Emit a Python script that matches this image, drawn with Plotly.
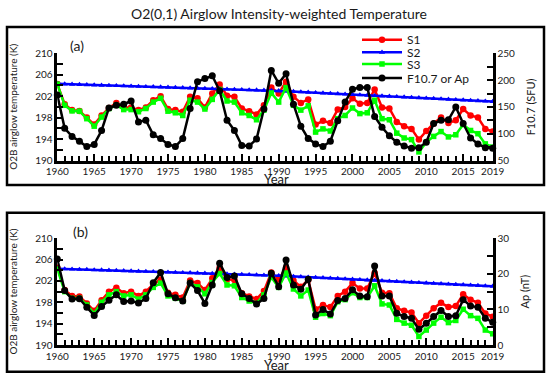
import plotly.graph_objects as go

years = list(range(1960, 2020))

# Panel (a): F10.7 proxy
a_s1 = [204.25, 200.5, 199.4, 199.25, 198.0, 196.7, 198.4, 199.8, 200.75, 199.9,
        199.9, 199.4, 199.9, 201.25, 202.0, 199.6, 199.4, 199.1, 201.9, 201.6,
        199.9, 202.5, 204.2, 202.1, 201.9, 199.7, 199.2, 198.6, 200.3, 203.6,
        202.5, 204.7, 201.9, 200.75, 201.4, 196.7, 197.4, 197.0, 199.5, 200.0,
        201.6, 200.6, 200.75, 203.25, 199.9, 199.7, 197.2, 196.4, 195.9, 193.9,
        195.5, 196.9, 198.0, 197.0, 197.5, 199.6, 198.4, 198.0, 195.9, 195.4]
a_s3 = [204.25, 200.3, 199.25, 199.2, 197.8, 196.4, 198.1, 199.7, 200.3, 199.5,
        199.5, 199.1, 199.7, 200.9, 201.6, 199.2, 198.9, 198.4, 201.25, 200.9,
        199.6, 201.4, 203.25, 201.1, 200.9, 198.9, 198.4, 197.6, 199.4, 202.6,
        200.9, 203.6, 200.3, 199.4, 200.2, 195.3, 195.9, 195.5, 197.8, 198.4,
        199.8, 198.75, 198.9, 201.25, 197.8, 197.6, 195.1, 194.2, 193.9, 191.6,
        193.4, 194.5, 195.4, 194.4, 194.8, 196.7, 195.6, 195.0, 193.1, 192.5]
a_f107 = [172, 110, 95, 86, 76, 80, 106, 148, 153, 155,
          161, 122, 125, 98, 91, 80, 76, 91, 147, 197,
          203, 208, 180, 125, 106, 78, 77, 90, 146, 218,
          194, 212, 155, 114, 91, 81, 76, 86, 124, 159,
          183, 186, 186, 132, 112, 96, 84, 77, 73, 74,
          84, 119, 125, 126, 150, 119, 92, 81, 74, 73]

# S2 trend (same in both panels)
s2 = [204.30, 204.26, 204.21, 204.17, 204.13, 204.08, 204.04, 204.00, 203.95, 203.91,
      203.87, 203.82, 203.78, 203.74, 203.69, 203.65, 203.61, 203.56, 203.52, 203.48,
      203.43, 203.39, 203.35, 203.30, 203.26, 203.22, 203.17, 203.13, 203.09, 203.04,
      203.00, 202.93, 202.86, 202.79, 202.72, 202.66, 202.59, 202.52, 202.45, 202.38,
      202.31, 202.24, 202.17, 202.10, 202.03, 201.97, 201.90, 201.83, 201.76, 201.69,
      201.62, 201.55, 201.48, 201.41, 201.34, 201.28, 201.21, 201.14, 201.07, 201.00]

# Panel (b): Ap proxy
b_s1 = [204.5, 200.3, 199.2, 199.1, 197.8, 196.4, 198.4, 200.0, 200.75, 199.7,
        200.0, 199.2, 200.0, 201.4, 202.3, 199.8, 199.4, 198.9, 202.1, 201.6,
        200.3, 202.5, 204.5, 202.3, 202.2, 199.7, 199.1, 198.6, 200.1, 203.6,
        202.3, 204.5, 202.1, 200.9, 202.2, 196.7, 197.5, 197.1, 199.2, 200.0,
        201.6, 200.6, 200.6, 203.5, 199.8, 199.7, 196.9, 196.4, 196.1, 194.1,
        195.5, 196.9, 197.9, 197.1, 197.3, 199.5, 198.5, 197.9, 195.9, 195.3]
b_s3 = [204.25, 200.0, 198.75, 198.75, 197.5, 195.9, 198.0, 199.4, 200.0, 199.2,
        199.4, 198.6, 199.4, 200.8, 201.6, 199.2, 198.75, 198.25, 201.6, 200.9,
        199.6, 201.7, 203.4, 201.25, 201.1, 198.9, 198.25, 197.8, 199.4, 202.7,
        200.8, 203.5, 200.5, 199.2, 200.3, 195.2, 195.9, 195.5, 198.1, 198.5,
        199.8, 198.9, 198.9, 201.1, 197.7, 197.5, 194.8, 194.1, 193.7, 191.6,
        192.8, 194.1, 195.2, 194.2, 194.6, 196.7, 195.5, 195.0, 192.8, 192.1]
b_ap = [24.2, 15.3, 12.9, 13.0, 10.6, 8.3, 10.8, 12.6, 14.1, 12.2,
        12.4, 11.8, 13.1, 17.5, 20.4, 14.4, 13.3, 12.4, 17.4, 15.3,
        11.7, 16.9, 23.0, 19.0, 19.4, 14.4, 13.1, 11.5, 13.1, 20.2,
        16.4, 23.9, 16.9, 15.7, 18.5, 8.4, 10.0, 8.7, 12.5, 13.1,
        15.5, 13.8, 13.6, 22.2, 13.8, 13.8, 8.9, 8.0, 7.5, 4.4,
        6.1, 8.0, 9.7, 8.0, 8.2, 12.7, 11.0, 10.6, 7.5, 6.4]

series_names = ["S1", "S2", "S3", "F10.7 or Ap"]
colors = ["#ff0000", "#0000ff", "#00ff00", "#000000"]
symbols = ["circle", "triangle-up", "square", "circle"]
msizes = [6.5, 5.5, 5.5, 7]

FONT = "Lato, Open Sans, sans-serif"
TXT = "#1a1a1a"
W, H = 550, 378

fig = go.Figure()

def add(y, idx, xa, ya, legend_id, show):
    fig.add_trace(go.Scatter(
        x=years, y=y, mode="lines+markers", name=series_names[idx],
        line=dict(color=colors[idx], width=2.5),
        marker=dict(color=colors[idx], symbol=symbols[idx], size=msizes[idx]),
        xaxis=xa, yaxis=ya, cliponaxis=False,
        legend=legend_id, showlegend=show))

# panel a
add(a_s1, 0, "x", "y", "legend", True)
add(s2, 1, "x", "y", "legend2", True)
add(a_s3, 2, "x", "y", "legend3", True)
add(a_f107, 3, "x", "y2", "legend4", True)
# panel b
add(b_s1, 0, "x2", "y3", "legend", False)
add(s2, 1, "x2", "y3", "legend", False)
add(b_s3, 2, "x2", "y3", "legend", False)
add(b_ap, 3, "x2", "y4", "legend", False)

xdom = [57.3 / W, 492.7 / W]
a_dom = [1 - 160.5 / H, 1 - 53.3 / H]
b_dom = [1 - 345 / H, 1 - 238.3 / H]

tickfont = dict(family=FONT, size=10, color=TXT)
xticks = [1960, 1965, 1970, 1975, 1980, 1985, 1990, 1995, 2000, 2005, 2010, 2015, 2019]

def xaxis(dom_anchor):
    return dict(domain=xdom, range=[1960, 2019], anchor=dom_anchor, automargin=False,
                tickvals=xticks, ticktext=[str(v) for v in xticks],
                ticks="inside", ticklen=7, tickwidth=1.5, tickcolor="black",
                showline=True, linecolor="black", linewidth=2.5,
                showgrid=False, zeroline=False, tickfont=tickfont,
                minor=dict(dtick=1, tick0=1960, ticks="inside", ticklen=5,
                           tickwidth=1.5, tickcolor="black", showgrid=False))

def yleft(dom, anchor):
    return dict(domain=dom, range=[190, 210], anchor=anchor, automargin=False,
                tickvals=[190, 194, 198, 202, 206, 210],
                ticks="inside", ticklen=6, tickwidth=1.5, tickcolor="black",
                showline=True, linecolor="black", linewidth=2.5,
                showgrid=False, zeroline=False, tickfont=tickfont,
                minor=dict(dtick=2, tick0=190, ticks="inside", ticklen=6,
                           tickwidth=1.5, tickcolor="black", showgrid=False),
                title=dict(text="O2B airglow temperature (K)",
                           font=dict(family=FONT, size=10, color=TXT), standoff=16))

def yright(rng, tv, mdt, title, overlay, anchor):
    return dict(range=rng, overlaying=overlay, side="right", anchor=anchor, automargin=False,
                tickvals=tv,
                ticks="inside", ticklen=6, tickwidth=1.5, tickcolor="black",
                showline=True, linecolor="black", linewidth=2.5,
                showgrid=False, zeroline=False, tickfont=tickfont,
                minor=dict(dtick=mdt, tick0=rng[0], ticks="inside", ticklen=6,
                           tickwidth=1.5, tickcolor="black", showgrid=False),
                title=dict(text=title, font=dict(family=FONT, size=11, color=TXT),
                           standoff=14))

def leg(yrow):
    return dict(x=357 / W, xanchor="left", y=1 - yrow / H, yanchor="middle",
                bgcolor="rgba(0,0,0,0)", font=dict(family=FONT, size=12, color=TXT),
                itemwidth=40, tracegroupgap=0)

def label(text, x, y, size):
    return dict(text=text, xref="paper", yref="paper", x=x / W, y=1 - y / H,
                xanchor="center", yanchor="middle", showarrow=False,
                font=dict(family=FONT, size=size, color=TXT))

fig.update_layout(
    width=W, height=H, margin=dict(l=0, r=0, t=0, b=0),
    paper_bgcolor="white", plot_bgcolor="white",
    font=dict(family=FONT),
    title=dict(text="O2(0,1) Airglow Intensity-weighted Temperature",
               x=279 / W, xanchor="center", y=1 - 14 / H, yanchor="middle",
               font=dict(family=FONT, size=14, color=TXT)),
    xaxis=xaxis("y"),
    xaxis2=xaxis("y3"),
    yaxis=yleft(a_dom, "x"),
    yaxis2=yright([50, 250], [50, 100, 150, 200, 250], 25, "F10.7 (SFU)", "y", "x"),
    yaxis3=yleft(b_dom, "x2"),
    yaxis4=yright([0, 30], [0, 10, 20, 30], 5, "Ap (nT)", "y3", "x2"),
    legend=leg(39.7), legend2=leg(52.3), legend3=leg(64), legend4=leg(78),
    shapes=[
        dict(type="rect", xref="paper", yref="paper",
             x0=7 / W, x1=544 / W, y0=1 - 185 / H, y1=1 - 27 / H,
             line=dict(color="black", width=2.5), layer="below"),
        dict(type="rect", xref="paper", yref="paper",
             x0=7 / W, x1=544 / W, y0=1 - 371.7 / H, y1=1 - 212.7 / H,
             line=dict(color="black", width=2.5), layer="below"),
    ],
    annotations=[
        label("(a)", 77, 46, 14),
        label("(b)", 80, 231, 14),
        label("Year", 276, 178.5, 13),
        label("Year", 276, 364.5, 13),
    ],
)

fig.write_html("out.html", config={"displayModeBar": False},
               post_script="document.body.style.margin='0';document.body.style.padding='0';")
